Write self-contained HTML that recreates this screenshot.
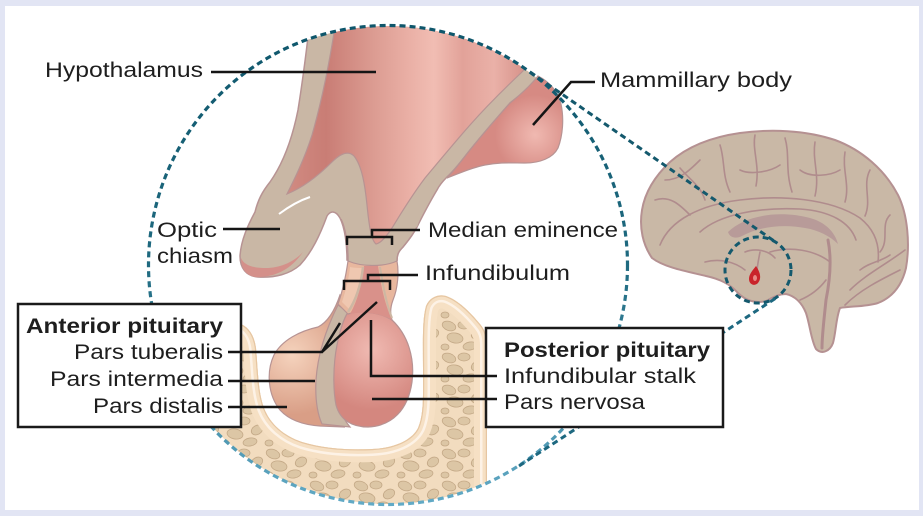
<!DOCTYPE html>
<html><head><meta charset="utf-8"><style>
html,body{margin:0;padding:0;background:#e2e5f4;}
svg{display:block;}
text{font-family:"Liberation Sans",sans-serif;fill:#1e1e1e;font-size:21px;}
.b{font-weight:700;}
</style></head><body>
<svg width="923" height="516" viewBox="0 0 923 516" xmlns="http://www.w3.org/2000/svg">
<defs>
 <clipPath id="cc"><circle cx="388" cy="265" r="239"/></clipPath>
 <clipPath id="bone"><path d="M 180,318 L 238,323 C 248,326 254,334 256,348 C 258,370 258,392 264,408 C 270,424 284,436 302,442 C 325,449 350,450 372,449 C 395,448 412,440 418,428 C 424,414 423,395 423,370 C 423,345 422,320 426,306 C 430,297 438,294 446,296 C 458,300 470,312 480,324 C 485,330 487,336 487,345 L 487,520 L 180,520 Z"/></clipPath>
 <linearGradient id="cg" gradientUnits="userSpaceOnUse" x1="0" y1="25" x2="0" y2="505">
  <stop offset="0" stop-color="#0e566b"/><stop offset="0.5" stop-color="#1f6a80"/><stop offset="1" stop-color="#62aac6"/>
 </linearGradient>
 <linearGradient id="pk" gradientUnits="userSpaceOnUse" x1="290" y1="0" x2="530" y2="0">
  <stop offset="0" stop-color="#d08a81"/><stop offset="0.15" stop-color="#c97d75"/><stop offset="0.35" stop-color="#dc9c92"/>
  <stop offset="0.5" stop-color="#eab0a6"/><stop offset="0.6" stop-color="#f1bdb3"/><stop offset="0.72" stop-color="#e2a299"/>
  <stop offset="0.85" stop-color="#eab1a8"/><stop offset="1" stop-color="#d48d85"/>
 </linearGradient>
 <radialGradient id="mm" gradientUnits="userSpaceOnUse" cx="535" cy="135" r="40">
  <stop offset="0" stop-color="#f0b9b1"/><stop offset="1" stop-color="#d68a83"/>
 </radialGradient>
 <radialGradient id="pp" gradientUnits="userSpaceOnUse" cx="372" cy="350" r="60">
  <stop offset="0" stop-color="#f0bab2"/><stop offset="1" stop-color="#d4877f"/>
 </radialGradient>
 <radialGradient id="ap" gradientUnits="userSpaceOnUse" cx="292" cy="355" r="60">
  <stop offset="0" stop-color="#f5d3bd"/><stop offset="1" stop-color="#d99e86"/>
 </radialGradient>
 <pattern id="sp" patternUnits="userSpaceOnUse" width="44" height="32">
  <rect width="44" height="32" fill="#f2dcbf"/>
  <g fill="#dcc6a5" stroke="#c4a987" stroke-width="0.8">
   <ellipse cx="9" cy="6" rx="7" ry="4.5" transform="rotate(20 9 6)"/>
   <ellipse cx="24" cy="5" rx="6" ry="4"/>
   <ellipse cx="37" cy="14" rx="6" ry="4.5" transform="rotate(-30 37 14)"/>
   <ellipse cx="15" cy="18" rx="8" ry="5" transform="rotate(10 15 18)"/>
   <ellipse cx="30" cy="26" rx="7" ry="4" transform="rotate(-10 30 26)"/>
   <ellipse cx="5" cy="27" rx="4" ry="3"/>
  </g>
 </pattern>
</defs>

<rect width="923" height="516" fill="#e2e5f4"/>
<rect x="5" y="6" width="914" height="504" fill="#fff"/>

<!-- Brain -->
<path d="M 652,258 C 643,245 639,228 642,210 C 645,192 655,176 670,162 C 688,146 712,137 740,133 C 770,129 805,130 835,140 C 862,150 885,170 898,195 C 908,215 910,245 906,268 C 902,285 893,297 878,303 C 865,307 850,306 840,308 C 836,318 836,332 833,343 C 830,351 822,355 816,349 C 811,340 810,325 806,313 C 802,303 795,296 786,294 C 778,294 772,298 766,301 C 755,304 745,300 738,293 C 730,284 720,279 706,276 C 690,272 665,268 652,258 Z" fill="#c9b8a6" stroke="#b59192" stroke-width="2"/>
<g fill="none" stroke="#b08c8d" stroke-width="1.6" stroke-linecap="round">
 <path d="M 660,245 C 670,220 700,205 740,200 C 780,195 830,198 860,218 C 875,230 880,245 878,262"/>
 <path d="M 700,232 C 720,214 760,207 800,209 C 830,211 850,222 856,240"/>
 <path d="M 680,168 C 690,180 700,185 705,200"/>
 <path d="M 720,145 C 725,160 722,175 730,192"/>
 <path d="M 755,135 C 752,150 760,165 756,186"/>
 <path d="M 785,138 C 790,155 785,170 792,192"/>
 <path d="M 815,142 C 812,160 820,175 815,196"/>
 <path d="M 845,152 C 842,170 850,185 845,202"/>
 <path d="M 870,170 C 862,185 872,200 865,216"/>
 <path d="M 655,200 C 670,195 680,205 690,215"/>
 <path d="M 665,180 C 680,180 690,170 700,160"/>
 <path d="M 740,170 C 750,175 770,172 780,165"/>
 <path d="M 800,170 C 810,178 830,176 840,170"/>
 <path d="M 890,215 C 880,225 890,240 880,252"/>
 <path d="M 770,252 C 790,246 815,250 830,262"/>
 <path d="M 705,262 C 720,258 735,262 745,270"/>
 <path d="M 845,305 C 860,290 880,280 900,270"/>
 <path d="M 850,290 C 865,275 885,265 905,250"/>
 <path d="M 860,270 C 870,262 880,262 890,255"/>
 <path d="M 800,300 C 812,295 820,288 826,280"/>
 <path d="M 828,240 C 832,260 830,280 826,300 C 824,320 822,335 822,348" stroke-width="3"/>
 <path d="M 745,252 C 755,248 768,250 775,258"/>
 <path d="M 760,252 C 758,262 757,268 757,272"/>
</g>
<path d="M 728,232 C 745,215 780,210 810,218 C 825,222 835,232 838,244 C 830,236 818,230 805,228 C 785,224 760,226 742,236 C 736,239 730,238 728,232 Z" fill="#b89b99"/>
<path d="M 756,266 C 760,272 762,278 758,283 C 754,287 749,284 749,279 C 749,274 753,270 756,266 Z" fill="#c9242b"/>
<ellipse cx="755" cy="278" rx="2" ry="3" fill="#e88a86"/>

<!-- Bone -->
<g clip-path="url(#cc)">
 <g clip-path="url(#bone)">
  <rect x="180" y="290" width="320" height="230" fill="url(#sp)"/>
  <path d="M 180,318 L 238,323 C 248,326 254,334 256,348 C 258,370 258,392 264,408 C 270,424 284,436 302,442 C 325,449 350,450 372,449 C 395,448 412,440 418,428 C 424,414 423,395 423,370 C 423,345 422,320 426,306 C 430,297 438,294 446,296 C 458,300 470,312 480,324 C 485,330 487,336 487,345 L 487,520" fill="none" stroke="#f6e0c4" stroke-width="26"/>
  <path d="M 180,318 L 238,323 C 248,326 254,334 256,348 C 258,370 258,392 264,408 C 270,424 284,436 302,442 C 325,449 350,450 372,449 C 395,448 412,440 418,428 C 424,414 423,395 423,370 C 423,345 422,320 426,306 C 430,297 438,294 446,296 C 458,300 470,312 480,324 C 485,330 487,336 487,345 L 487,520" fill="none" stroke="#fdf2e6" stroke-width="14"/>
  <path d="M 180,318 L 238,323 C 248,326 254,334 256,348 C 258,370 258,392 264,408 C 270,424 284,436 302,442 C 325,449 350,450 372,449 C 395,448 412,440 418,428 C 424,414 423,395 423,370 C 423,345 422,320 426,306 C 430,297 438,294 446,296 C 458,300 470,312 480,324 C 485,330 487,336 487,345 L 487,520" fill="none" stroke="#f6e0c4" stroke-width="9"/>
  <path d="M 180,318 L 238,323 C 248,326 254,334 256,348 C 258,370 258,392 264,408 C 270,424 284,436 302,442 C 325,449 350,450 372,449 C 395,448 412,440 418,428 C 424,414 423,395 423,370 C 423,345 422,320 426,306 C 430,297 438,294 446,296 C 458,300 470,312 480,324 C 485,330 487,336 487,345 L 487,520" fill="none" stroke="#e6c6a2" stroke-width="2.4"/>
 </g>
 <!-- Hypothalamus tan silhouette -->
 <path d="M 310,20 L 560,20 L 540,78 C 530,88 520,95 510,103 C 495,120 482,135 470,150 C 462,160 455,170 447,177 C 442,182 439,186 437,190 C 428,205 422,217 417,227 C 411,238 406,243 403,247 C 399,251 397,254 397,260 L 347,260 C 347,245 345,228 340,218 C 336,211 331,210 327,216 C 320,235 312,252 300,265 C 290,274 275,278 258,277 C 246,276 240,268 240,256 C 241,240 248,225 255,212 C 258,200 262,192 270,182 C 282,165 292,140 298,110 C 302,85 306,55 310,20 Z" fill="#c9b7a5" stroke="#b79393" stroke-width="1.5"/>
</g>
<!-- explicit stalk / median eminence tan -->
<path d="M 341,219 C 346,208 356,200 368,196 L 430,196 C 425,208 420,218 417,227 C 411,238 406,243 403,247 C 399,251 397,254 397,261 C 384,268 362,268 348,261 C 348,246 346,230 341,219 Z" fill="#c9b7a5"/>
<path d="M 348,261 C 348,246 346,230 341,219" fill="none" stroke="#b79393" stroke-width="1.5"/>
<path d="M 417,227 C 411,238 406,243 403,247 C 399,251 397,254 397,261" fill="none" stroke="#b79393" stroke-width="1.5"/>
<!-- chiasm underside -->
<path d="M 241,258 C 241,271 249,278 260,277 C 278,276 292,268 303,252 C 294,262 280,268 266,268 C 252,268 244,265 241,258 Z" fill="#d4908a"/>
<path d="M 310,197 Q 295,202 279,214" stroke="#fff" stroke-width="2" fill="none"/>
<!-- pink hypothalamus -->
<g clip-path="url(#cc)">
<path d="M 336,20 L 570,20 L 522,72 C 505,88 485,108 470,125 C 455,142 440,160 425,178 C 410,198 400,215 392,228 C 386,237 381,243 376,244 C 371,240 369,225 367,205 C 365,185 362,166 354,156 C 348,150 340,154 332,162 C 318,176 302,188 287,194 C 294,180 304,160 312,135 C 322,100 330,60 336,20 Z" fill="url(#pk)" stroke="#b79393" stroke-width="1.2"/>
</g>
<!-- mammillary body + strip -->
<path d="M 538,76 C 550,82 558,92 561,104 C 564,118 563,135 558,148 C 553,158 540,163 525,163 C 512,163 500,162 485,165 C 470,168 458,174 447,178 C 455,170 462,160 470,150 C 482,135 495,120 510,103 C 520,95 530,86 538,76 Z" fill="url(#mm)" stroke="#b79393" stroke-width="1.2"/>

<!-- Pituitary -->
<path d="M 340,295 C 335,310 328,322 318,327 C 300,331 282,340 274,355 C 266,372 268,395 280,410 C 290,421 305,425 320,426 L 345,427 C 328,418 318,402 317,385 C 316,360 325,335 348,305 Z" fill="url(#ap)" stroke="#b79393" stroke-width="1.2"/>
<path d="M 338,305 C 328,325 318,350 316,380 C 315,400 318,415 322,424 L 350,427 C 340,415 335,400 334,380 C 334,360 338,335 348,312 Z" fill="#c9b7a5" stroke="#b79393" stroke-width="1.2"/>
<path d="M 348,312 C 360,308 380,310 392,320 C 408,335 415,358 412,382 C 408,410 392,426 368,427 C 352,427 340,420 336,405 C 333,390 333,365 337,345 C 340,330 343,320 348,312 Z" fill="url(#pp)" stroke="#b79393" stroke-width="1.2"/>
<!-- infundibulum column -->
<path d="M 348,261 C 362,267 384,267 397,261 C 399,272 398,288 393,300 C 390,308 390,314 392,320 C 380,312 360,310 348,314 L 338,304 C 343,290 346,275 348,261 Z" fill="#e8b79e" stroke="#b79393" stroke-width="1.2"/>
<path d="M 350,267 C 355,268 360,268 363,268 C 361,285 356,300 350,310 L 342,302 C 346,290 349,278 350,267 Z" fill="#efc7b0"/>
<path d="M 364,266 L 378,266 C 381,285 384,302 392,320 C 380,313 362,311 350,314 C 358,300 362,283 364,266 Z" fill="#d9918a"/>
<path d="M 363,267 C 361,285 356,300 348,312" stroke="#cdb7a3" stroke-width="2.5" fill="none"/>
<path d="M 380,267 C 383,285 386,303 392,318" stroke="#cdb7a3" stroke-width="2" fill="none"/>

<!-- Dashed circles and lines -->
<circle cx="388" cy="265" r="239.5" fill="none" stroke="url(#cg)" stroke-width="3.2" stroke-dasharray="6 4"/>
<circle cx="758" cy="270" r="33" fill="none" stroke="#14596d" stroke-width="3" stroke-dasharray="6 4"/>
<line x1="530" y1="72" x2="777" y2="243" stroke="#14596d" stroke-width="3" stroke-dasharray="6 4"/>
<line x1="519" y1="466" x2="776" y2="298" stroke="#1d6880" stroke-width="3" stroke-dasharray="6 4"/>

<!-- Boxes -->
<rect x="18" y="304" width="223" height="123" fill="#fff" stroke="#1a1a1a" stroke-width="2.5"/>
<rect x="486" y="328" width="237" height="99" fill="#fff" stroke="#1a1a1a" stroke-width="2.5"/>

<!-- Leader lines -->
<g fill="none" stroke="#151515" stroke-width="2.5">
 <path d="M 211,72 H 376"/>
 <path d="M 595,82 H 571 L 533,125"/>
 <path d="M 223,229 H 280"/>
 <path d="M 347,245 V 237 H 392 V 245 M 372,237 V 230 H 420"/>
 <path d="M 344,290 V 281 H 390 V 290 M 368,281 V 275 H 418"/>
 <path d="M 228,352 H 322 L 340,323 M 322,352 L 377,302"/>
 <path d="M 228,381 H 315"/>
 <path d="M 228,407 H 287"/>
 <path d="M 371,320 V 376 H 497"/>
 <path d="M 372,399 H 497"/>
</g>

<!-- Text -->
<text x="45" y="77" textLength="158" lengthAdjust="spacingAndGlyphs">Hypothalamus</text>
<text x="600" y="87" textLength="192" lengthAdjust="spacingAndGlyphs">Mammillary body</text>
<text x="157" y="237" textLength="60" lengthAdjust="spacingAndGlyphs">Optic</text>
<text x="157" y="263" textLength="76" lengthAdjust="spacingAndGlyphs">chiasm</text>
<text x="428" y="237" textLength="190" lengthAdjust="spacingAndGlyphs">Median eminence</text>
<text x="425" y="280" textLength="145" lengthAdjust="spacingAndGlyphs">Infundibulum</text>
<text class="b" x="26" y="333" textLength="197" lengthAdjust="spacingAndGlyphs">Anterior pituitary</text>
<text x="74" y="359" textLength="149" lengthAdjust="spacingAndGlyphs">Pars tuberalis</text>
<text x="50" y="386" textLength="173" lengthAdjust="spacingAndGlyphs">Pars intermedia</text>
<text x="93" y="413" textLength="130" lengthAdjust="spacingAndGlyphs">Pars distalis</text>
<text class="b" x="504" y="357" textLength="206" lengthAdjust="spacingAndGlyphs">Posterior pituitary</text>
<text x="504" y="383" textLength="192" lengthAdjust="spacingAndGlyphs">Infundibular stalk</text>
<text x="504" y="409" textLength="141" lengthAdjust="spacingAndGlyphs">Pars nervosa</text>
</svg>
</body></html>
